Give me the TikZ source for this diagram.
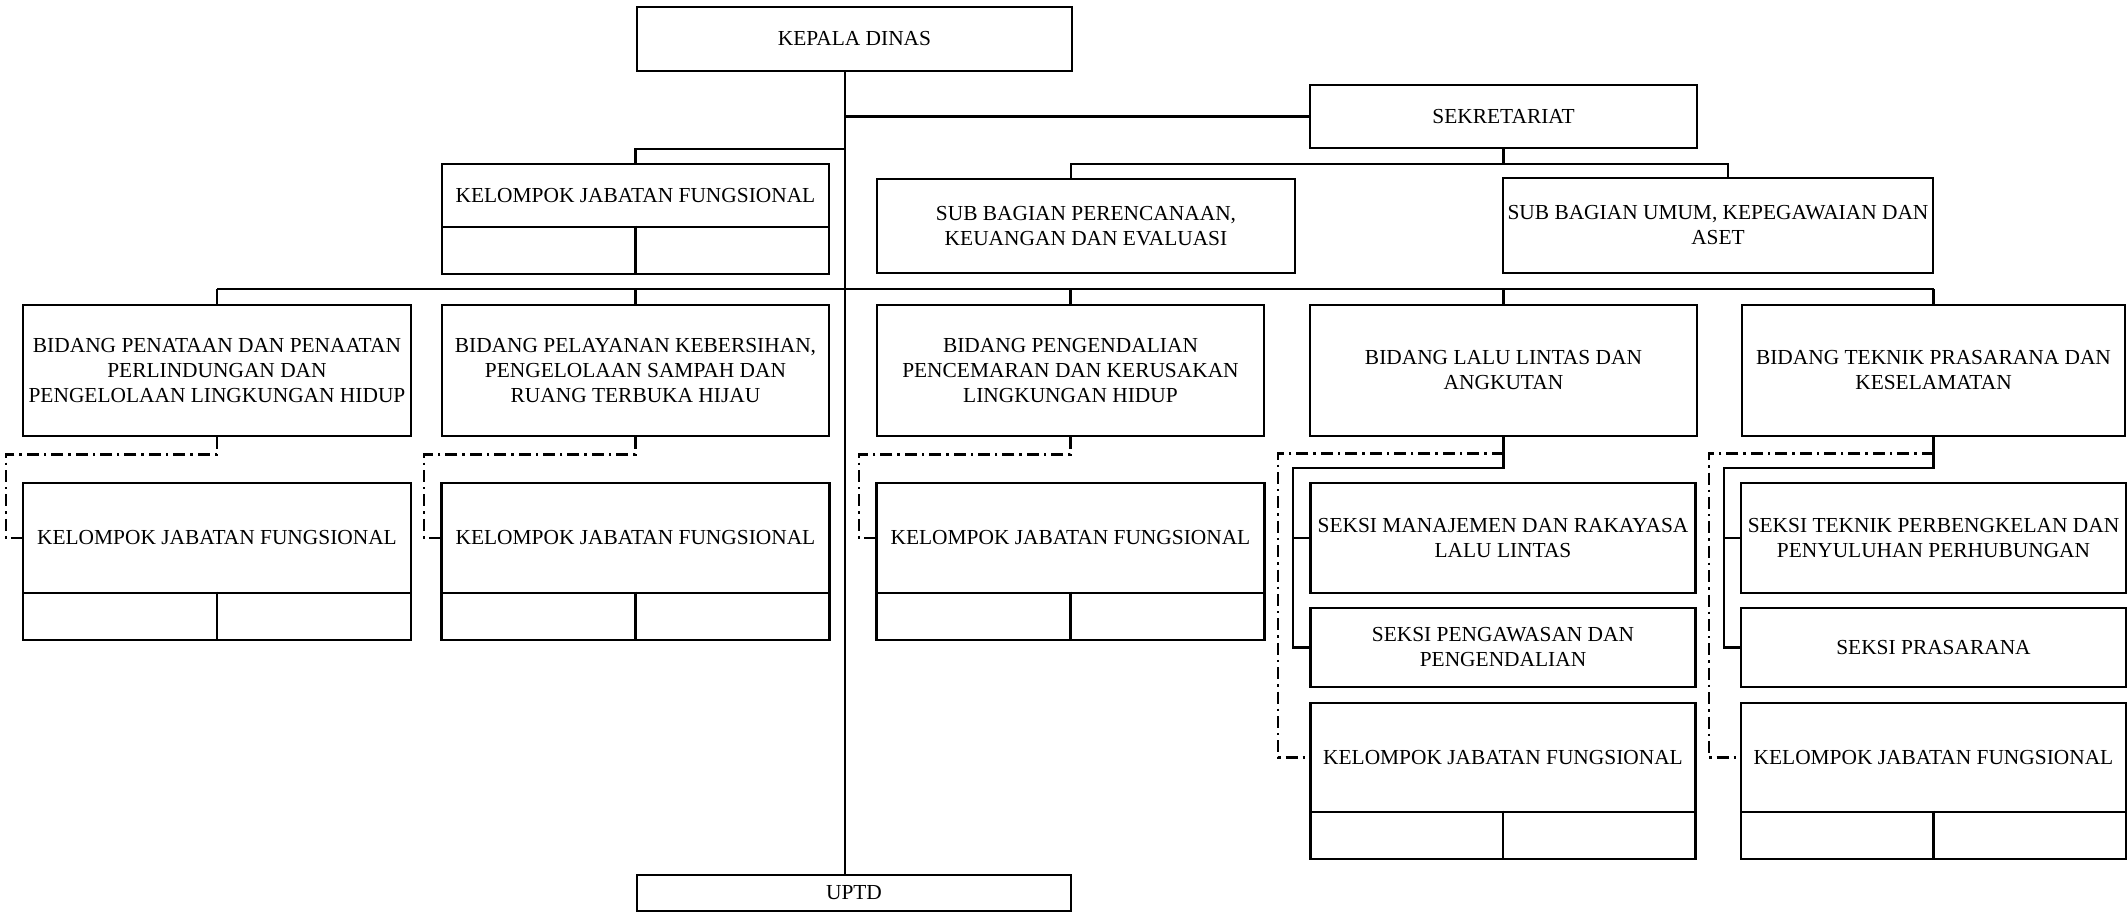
\documentclass[tikz,border=0pt]{standalone}
\usepackage{fontspec}
\setmainfont{Liberation Serif}
\usetikzlibrary{calc}

\tikzset{
  kotak/.style 2 args={draw, line width=1.3pt, inner sep=0pt, align=center,
    minimum width=#1, minimum height=#2, font=\fontsize{10.7}{12.5}\selectfont},
  garis/.style={line width=1.1pt},
  putus/.style={line width=1.2pt, dash pattern=on 6pt off 2.5pt on 1.2pt off 2.5pt},
}

\begin{document}
\begin{tikzpicture}[x=0.5pt,y=-0.5pt]
  \useasboundingbox (0,0) rectangle (2127,912);

  % pimpinan dan sekretariat
  \node[kotak={217.5pt}{32pt}] (kadis) at (854.5,39) {KEPALA DINAS};
  \node[kotak={193.5pt}{31.5pt}] (sekre) at (1503.5,116.5) {SEKRETARIAT};
  \node[kotak={193.5pt}{31.5pt}] (kjf0) at (635.5,195.5) {KELOMPOK JABATAN FUNGSIONAL};
  \node[kotak={193.5pt}{23.5pt}] (kb0) at (635.5,250.5) {};
  \node[kotak={209pt}{47pt}] (subren) at (1086,226) {SUB BAGIAN PERENCANAAN,\\KEUANGAN DAN EVALUASI};
  \node[kotak={215pt}{47.5pt}] (subum) at (1718,225.5) {SUB BAGIAN UMUM, KEPEGAWAIAN DAN\\ASET};

  % bidang
  \node[kotak={194pt}{65.5pt}] (b1) at (217,370.5) {BIDANG PENATAAN DAN PENAATAN\\PERLINDUNGAN DAN\\PENGELOLAAN LINGKUNGAN HIDUP};
  \node[kotak={193.5pt}{65.5pt}] (b2) at (635.5,370.5) {BIDANG PELAYANAN KEBERSIHAN,\\PENGELOLAAN SAMPAH DAN\\RUANG TERBUKA HIJAU};
  \node[kotak={193.5pt}{65.5pt}] (b3) at (1070.5,370.5) {BIDANG PENGENDALIAN\\PENCEMARAN DAN KERUSAKAN\\LINGKUNGAN HIDUP};
  \node[kotak={193.5pt}{65.5pt}] (b4) at (1503.5,370.5) {BIDANG LALU LINTAS DAN\\ANGKUTAN};
  \node[kotak={191.5pt}{65.5pt}] (b5) at (1933.5,370.5) {BIDANG TEKNIK PRASARANA DAN\\KESELAMATAN};

  % kelompok jabatan fungsional
  \foreach \n/\x in {1/217,2/635.5,3/1070.5} {
    \node[kotak={194pt}{55pt}] (k\n) at (\x,538) {KELOMPOK JABATAN FUNGSIONAL};
    \node[kotak={194pt}{23.5pt}] (kb\n) at (\x,616.5) {};
  }
  \foreach \n/\x in {4/1503,5/1933.5} {
    \node[kotak={192.5pt}{54.5pt}] (k\n) at (\x,757.5) {KELOMPOK JABATAN FUNGSIONAL};
    \node[kotak={192.5pt}{23.5pt}] (kb\n) at (\x,835.5) {};
  }

  % seksi
  \node[kotak={192.5pt}{55pt}] (s41) at (1503,538) {SEKSI MANAJEMEN DAN RAKAYASA\\LALU LINTAS};
  \node[kotak={192.5pt}{39.5pt}] (s42) at (1503,647.5) {SEKSI PENGAWASAN DAN\\PENGENDALIAN};
  \node[kotak={192.5pt}{55pt}] (s51) at (1933.5,538) {SEKSI TEKNIK PERBENGKELAN DAN\\PENYULUHAN PERHUBUNGAN};
  \node[kotak={192.5pt}{39.5pt}] (s52) at (1933.5,647.5) {SEKSI PRASARANA};

  \node[kotak={217pt}{18pt}] (uptd) at (854,893) {UPTD};

  % garis komando
  \coordinate (tr) at (845,0);
  \coordinate (jk) at (0,149);
  \coordinate (r1) at (1071,164);
  \coordinate (r2) at (1728,164);
  \coordinate (bus) at (0,289);
  \draw[garis] (kadis.south -| tr) -- (uptd.north -| tr);
  \draw[garis] (tr |- sekre.west) -- (sekre.west);
  \draw[garis] (tr |- jk) -| (kjf0.north);
  \draw[garis] (sekre.south) -- (sekre.south |- r1);
  \draw[garis] (r1 |- subren.north) -- (r1) -- (r2) -- (r2 |- subum.north);
  \draw[garis] (b1.north |- bus) -- (b5.north |- bus);
  \foreach \b in {b1,b2,b3,b4,b5}
    \draw[garis] (\b.north |- bus) -- (\b.north);
  \foreach \n in {4,5} {
    \draw[garis] (b\n.south) -- ++(0,31) -| ($(s\n1.west)+(-16,0)$) |- (s\n2.west);
    \draw[garis] ($(s\n1.west)+(-16,0)$) -- (s\n1.west);
  }

  % sel bawah
  \foreach \n in {0,...,5}
    \draw[line width=1.3pt] (kb\n.north) -- (kb\n.south);

  % garis koordinasi
  \foreach \n in {1,2,3}
    \draw[putus] (b\n.south) -- ++(0,17) -| ($(k\n.west)+(-16,0)$) -- (k\n.west);
  \foreach \n in {4,5}
    \draw[putus] ($(b\n.south)+(0,16)$) -| ($(k\n.west)+(-31,0)$) -- (k\n.west);
\end{tikzpicture}
\end{document}
